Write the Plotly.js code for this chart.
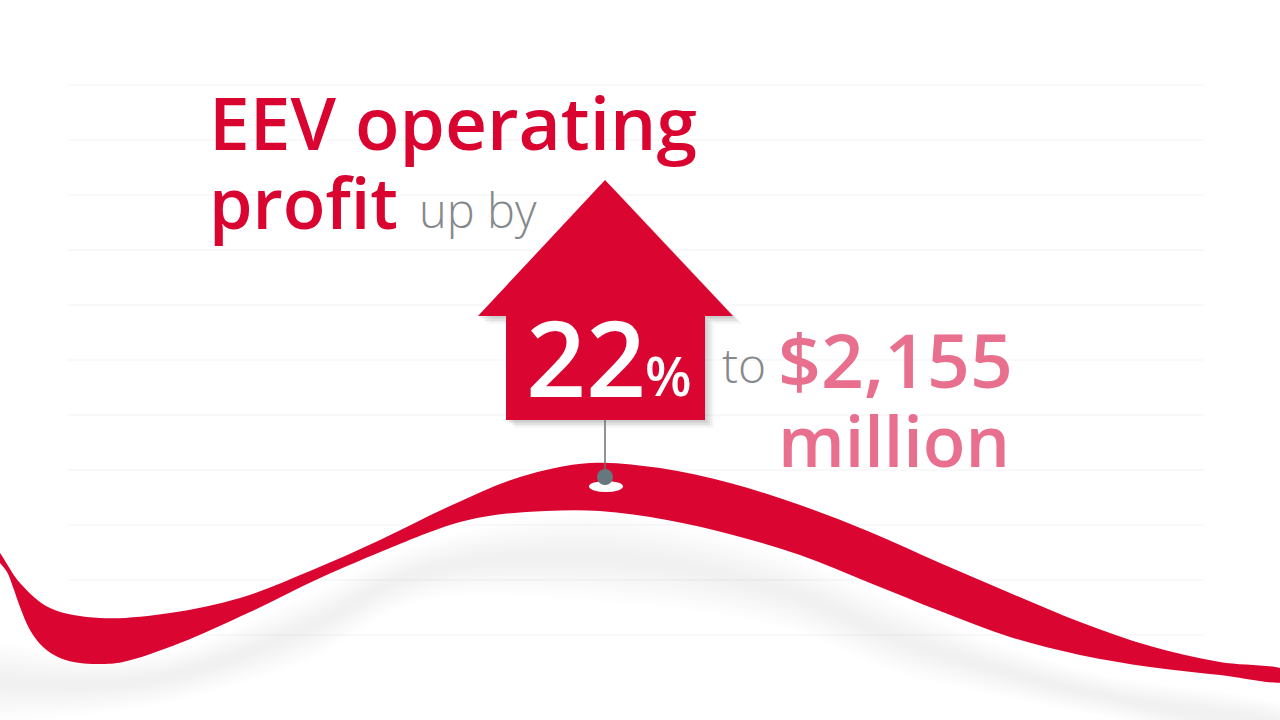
<!DOCTYPE html>
<html>
<head>
<meta charset="utf-8">
<script src="https://cdn.plot.ly/plotly-3.0.1.min.js"></script>
<style>html,body{margin:0;padding:0;background:#fff}#chart{width:1280px;height:720px}</style>
</head>
<body>
<div id="chart"></div>
<script>
// Ribbon edges
const ribbonTopX = [-6,0,20,50,100,170,240,310,380,450,520,590,660,730,800,870,940,1010,1080,1150,1220,1286];
const ribbonTopY = [546,553,583,608,618,613,598,571,540,506,477,463,468,483,505,532,563,593,622,646,662,671];
const ribbonBotX = [1286,1220,1150,1080,1010,940,870,800,733,667,600,545,495,460,430,390,320,250,180,123,100,80,60,43,30,20,13,7,0,-6];
const ribbonBotY = [681,675,667,655,637,611,583,555,535,520,511,511,515,522,532,548,578,612,643,662,664,663,658,647,630,607,587,572,563,556];

// Soft shadow under the ribbon
const shadeX = [-20,150,300,420,600,780,900,1000,1100,1300,1300,1100,1000,900,780,600,420,300,150,-20];
const shadeY = [640,655,600,545,515,555,605,645,675,715,745,715,695,672,625,600,600,662,705,722];

// Faint ruled lines
const ruleY = [85,140,195,250,305,360,415,470,525,580,635];
const ruleFromX = 68, ruleToX = 1203;

// Arrow outline
const arrowX = [605,733,705,705,506,506,478,605];
const arrowY = [180,316,316,420,420,316,316,180];

// Text
const labelText = ['EEV operating','profit','up by','22','%','to','$2,155','million'];
const labelX = [209,209,419,526,645,722,778,778];
const labelY = [145,225,225,390,393,380,383,463];
const labelSize = [73,70,47,105,54,48,75,70];
const labelWeight = [600,600,300,600,600,300,600,600];
const labelColor = ['#d9042f','#d9042f','#85898c','#ffffff','#ffffff','#85898c','#e96f8e','#e96f8e'];

const RED = '#da0530';
const traces = [];

const ruleXs = [], ruleYs = [];
ruleY.forEach(y => { ruleXs.push(ruleFromX, ruleToX, null); ruleYs.push(y, y, null); });
traces.push({x: ruleXs, y: ruleYs, mode: 'lines', line: {color: '#f3f3f3', width: 1}, hoverinfo: 'skip'});

// stacked translucent bands make a blurred shadow
for (let i = 0; i < 14; i++) {
  const k = 1.05 - i * 0.07;
  traces.push({
    x: shadeX,
    y: shadeY.map((v,j) => {
      const mid = (shadeY[j] + shadeY[shadeX.length - 1 - j]) / 2;
      return mid + (v - mid) * k;
    }),
    mode: 'lines', fill: 'toself', line: {width: 0, shape: 'spline', smoothing: 1},
    fillcolor: 'rgba(120,120,120,0.008)', hoverinfo: 'skip'
  });
}

traces.push({
  x: ribbonTopX.concat(ribbonBotX), y: ribbonTopY.concat(ribbonBotY),
  mode: 'lines', fill: 'toself', line: {width: 0, color: RED, shape: 'spline', smoothing: 1},
  fillcolor: RED, hoverinfo: 'skip'
});

// arrow shadow
[[9,8,0.05],[7,6,0.06],[5,5,0.07],[3,3,0.08],[1,2,0.08]].forEach(s => {
  traces.push({
    x: arrowX.map(v => v + s[0]), y: arrowY.map(v => v + s[1]),
    mode: 'lines', fill: 'toself', line: {width: 0},
    fillcolor: 'rgba(90,90,90,' + s[2] + ')', hoverinfo: 'skip'
  });
});

traces.push({x: [605,605], y: [420,478], mode: 'lines', line: {color: '#6d6f71', width: 1.5}, hoverinfo: 'skip'});
traces.push({x: arrowX, y: arrowY, mode: 'lines', fill: 'toself', line: {width: 0}, fillcolor: RED, hoverinfo: 'skip'});

const layout = {
  width: 1280, height: 720,
  margin: {l: 0, r: 0, t: 0, b: 0, pad: 0},
  paper_bgcolor: '#ffffff', plot_bgcolor: '#ffffff',
  showlegend: false,
  xaxis: {range: [0,1280], visible: false, fixedrange: true},
  yaxis: {range: [720,0], visible: false, fixedrange: true},
  shapes: [
    {type: 'circle', xref: 'x', yref: 'y', x0: 589, x1: 623, y0: 481, y1: 492, fillcolor: '#ffffff', line: {width: 0}, layer: 'above'},
    {type: 'circle', xref: 'x', yref: 'y', x0: 597, x1: 613, y0: 469, y1: 485, fillcolor: '#66777d', line: {width: 0}, layer: 'above'}
  ],
  annotations: labelText.map((t,i) => ({
    text: t, x: labelX[i], y: labelY[i], xref: 'x', yref: 'y',
    xanchor: 'left', yanchor: 'bottom', showarrow: false, align: 'left',
    borderpad: 0, borderwidth: 0,
    yshift: -labelSize[i] * 0.36,
    font: {family: '"Open Sans", "Noto Sans", sans-serif', size: labelSize[i], weight: labelWeight[i], color: labelColor[i]}
  }))
};
Plotly.newPlot('chart', traces, layout, {displayModeBar: false, staticPlot: true});
</script>
</body>
</html>
